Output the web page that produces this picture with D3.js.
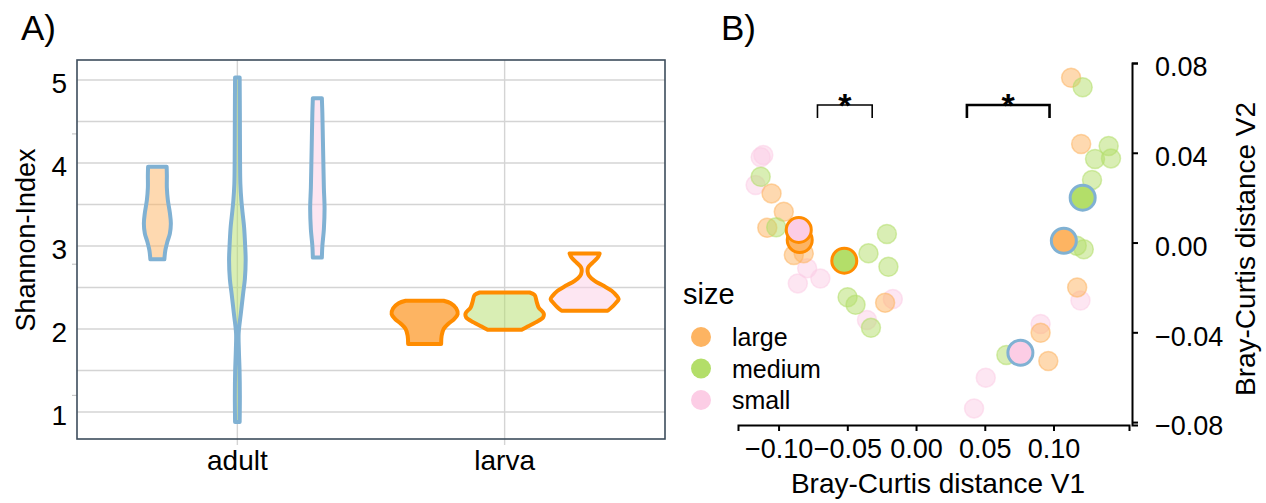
<!DOCTYPE html>
<html>
<head>
<meta charset="utf-8">
<script src="https://cdn.jsdelivr.net/npm/d3@7"></script>
<style>
  body { margin: 0; background: #fff; }
  text { font-family: "Liberation Sans", Arial, sans-serif; fill: #000; }
</style>
</head>
<body>
<svg id="canvas"></svg>
<script>
const width = 1266;
const height = 503;

// panel A data
const stages = ['adult', 'larva'];
const sizes = ['large', 'medium', 'small'];
const shannonTicks = [1, 2, 3, 4, 5];
const shannonGrid = [1, 1.5, 2, 2.5, 3, 3.5, 4, 4.5, 5];
const shannonMinorTicks = [4.35, 2.78, 1.2];

// violin outlines: [Shannon value, density]
const adultLarge = [[3.955, .93], [3.85, .95], [3.7, .95], [3.55, 1.05], [3.4, 1.25], [3.27, 1.35], [3.15, 1.25], [3.05, 1.0], [2.95, .8], [2.84, .7]];
const adultMedium = [[5.03, .23], [4.6, .25], [4.0, .27], [3.75, .3], [3.55, .4], [3.4, .52], [3.23, .67], [3.0, .78], [2.83, .83], [2.6, .75], [2.43, .58], [2.19, .35], [1.95, .13], [1.75, .15], [1.5, .22], [1.2, .25], [0.88, .23]];
const adultSmall = [[4.78, .45], [4.6, .5], [4.3, .55], [4.0, .6], [3.7, .65], [3.45, .72], [3.2, .65], [3.0, .5], [2.86, .45]];
const larvaLarge = [[2.34, 1.9], [2.31, 2.6], [2.25, 3.15], [2.18, 3.3], [2.12, 2.95], [2.06, 2.35], [2.0, 1.9], [1.92, 1.7], [1.82, 1.65]];
const larvaMedium = [[2.44, 2.5], [2.41, 3.0], [2.33, 3.2], [2.26, 3.4], [2.19, 3.9], [2.14, 3.85], [2.08, 3.1], [2.03, 2.3], [1.99, 1.7]];
const larvaSmall = [[2.91, 1.5], [2.86, 1.3], [2.80, .8], [2.74, .35], [2.69, .3], [2.64, .45], [2.58, 1.0], [2.52, 1.9], [2.46, 2.7], [2.40, 3.2], [2.36, 3.4], [2.31, 3.1], [2.26, 2.7], [2.22, 2.3]];

// panel B data: [V1, V2]
const pointsLarge = [[-0.1051, 0.0219], [-0.0962, 0.0137], [-0.1082, 0.0066], [-0.0889, -0.0056], [-0.0817, -0.0048], [-0.0225, -0.0268],
  [0.1128, 0.0734], [0.1201, 0.0439], [0.1172, -0.0200], [0.0906, -0.0402], [0.0962, -0.0528]];
const pointsMedium = [[-0.1130, 0.0293], [-0.1017, 0.0068], [-0.0346, -0.0048], [-0.0212, 0.0038], [-0.0201, -0.0108], [-0.0498, -0.0244], [-0.0440, -0.0277], [-0.0328, -0.0380],
  [0.1212, 0.0692], [0.1401, 0.0430], [0.1302, 0.0372], [0.1418, 0.0375], [0.1280, 0.0279], [0.1169, -0.0014], [0.1220, -0.0030], [0.0657, -0.0501]];
const pointsSmall = [[-0.1111, 0.0390], [-0.1130, 0.0380], [-0.1167, 0.0256], [-0.0792, -0.0115], [-0.0696, -0.0160], [-0.0860, -0.0182], [-0.0169, -0.0252], [-0.0357, -0.0345],
  [0.1196, -0.0258], [0.0906, -0.0363], [0.0507, -0.0602], [0.0422, -0.0739]];
const centroidStage = ['larva', 'larva', 'larva', 'adult', 'adult', 'adult'];
const centroidSize = ['large', 'medium', 'small', 'large', 'medium', 'small'];
const centroidV1 = [-0.0846, -0.0522, -0.0853, 0.1075, 0.1212, 0.0759];
const centroidV2 = [0.0011, -0.0081, 0.0056, 0.0008, 0.0200, -0.0491];
const brackets = [[-0.0717, -0.0319, 0.0613, 0.0555], [0.0370, 0.0971, 0.0613, 0.0555]];
const v1Ticks = [-0.10, -0.05, 0.00, 0.05, 0.10];
const v2Ticks = [-0.08, -0.04, 0.00, 0.04, 0.08];

const sizeColor = d3.scaleOrdinal().domain(sizes).range(['#fdb462', '#b3de69', '#fccde5']);
const stageColor = d3.scaleOrdinal().domain(stages).range(['#80b1d3', '#ff8c00']);

const svg = d3.select('#canvas').attr('width', width).attr('height', height);

// ---------- panel A ----------
const xA = d3.scalePoint().domain(stages).range([77, 665]).padding(0.6);
const dodge = d3.scalePoint().domain(sizes).range([-80, 80]);
const yA = d3.scaleLinear().domain([0.675, 5.24]).range([439, 60]);
const wA = d3.scaleLinear().domain([0, 1]).range([0, 10]);

const gA = svg.append('g');

gA.selectAll('.hgrid')
  .data(shannonGrid)
  .enter()
  .append('line')
  .attr('x1', 77).attr('x2', 665)
  .attr('y1', d => yA(d)).attr('y2', d => yA(d))
  .attr('stroke', '#d4d4d4').attr('stroke-width', 1.4);

gA.selectAll('.vgrid')
  .data(stages)
  .enter()
  .append('line')
  .attr('x1', d => xA(d)).attr('x2', d => xA(d))
  .attr('y1', 60).attr('y2', 445)
  .attr('stroke', '#d4d4d4').attr('stroke-width', 1.4);

gA.selectAll('.minor')
  .data(shannonMinorTicks)
  .enter()
  .append('line')
  .attr('x1', 72).attr('x2', 77)
  .attr('y1', d => yA(d)).attr('y2', d => yA(d))
  .attr('stroke', '#c8c8c8').attr('stroke-width', 1.2);

const violins = [
  { stage: 'adult', size: 'large', values: adultLarge, alpha: 0.5 },
  { stage: 'adult', size: 'medium', values: adultMedium, alpha: 0.5 },
  { stage: 'adult', size: 'small', values: adultSmall, alpha: 0.5 },
  { stage: 'larva', size: 'large', values: larvaLarge, alpha: 1 },
  { stage: 'larva', size: 'medium', values: larvaMedium, alpha: 0.5 },
  { stage: 'larva', size: 'small', values: larvaSmall, alpha: 0.5 }
];

violins.forEach(v => {
  const cx = xA(v.stage) + dodge(v.size);
  const area = d3.area()
    .y(d => yA(d[0]))
    .x0(d => cx - wA(d[1]))
    .x1(d => cx + wA(d[1]))
    .curve(d3.curveCatmullRom.alpha(0.5));
  gA.append('path')
    .attr('d', area(v.values))
    .attr('fill', sizeColor(v.size))
    .attr('fill-opacity', v.alpha)
    .attr('stroke', stageColor(v.stage))
    .attr('stroke-width', 4)
    .attr('stroke-linejoin', 'round');
});

gA.append('rect')
  .attr('x', 77).attr('y', 60)
  .attr('width', 588).attr('height', 379)
  .attr('fill', 'none')
  .attr('stroke', '#3d4d5c').attr('stroke-width', 1.6);

gA.selectAll('.ytick')
  .data(shannonTicks)
  .enter()
  .append('text')
  .attr('x', 67)
  .attr('y', d => yA(d) + 13)
  .attr('text-anchor', 'end')
  .style('font-size', '28px')
  .text(d => d);

gA.selectAll('.xlab')
  .data(stages)
  .enter()
  .append('text')
  .attr('x', d => xA(d))
  .attr('y', 470)
  .attr('text-anchor', 'middle')
  .style('font-size', '28px')
  .text(d => d);

gA.append('text')
  .attr('transform', 'translate(35,240) rotate(-90)')
  .attr('text-anchor', 'middle')
  .style('font-size', '27px')
  .text('Shannon-Index');

svg.append('text').attr('x', 21).attr('y', 40).style('font-size', '35px').text('A)');

// ---------- panel B ----------
const xB = d3.scaleLinear().domain([-0.1295, 0.1549]).range([738, 1129]);
const yB = d3.scaleLinear().domain([-0.0813, 0.08]).range([425, 63]);

const gB = svg.append('g');

const lightLayers = [
  { size: 'small', values: pointsSmall },
  { size: 'large', values: pointsLarge },
  { size: 'medium', values: pointsMedium }
];

lightLayers.forEach(layer => {
  gB.append('g')
    .selectAll('circle')
    .data(layer.values)
    .enter()
    .append('circle')
    .attr('cx', d => xB(d[0]))
    .attr('cy', d => yB(d[1]))
    .attr('r', 9.5)
    .attr('fill', sizeColor(layer.size))
    .attr('fill-opacity', 0.5)
    .attr('stroke', sizeColor(layer.size))
    .attr('stroke-opacity', 0.55)
    .attr('stroke-width', 1.5);
});

gB.selectAll('.centroid')
  .data(d3.range(centroidV1.length))
  .enter()
  .append('circle')
  .attr('cx', i => xB(centroidV1[i]))
  .attr('cy', i => yB(centroidV2[i]))
  .attr('r', 12.5)
  .attr('fill', i => sizeColor(centroidSize[i]))
  .attr('stroke', i => stageColor(centroidStage[i]))
  .attr('stroke-width', 3);

brackets.forEach((b, i) => {
  const x0 = xB(b[0]), x1 = xB(b[1]), yt = yB(b[2]), yb = yB(b[3]);
  gB.append('path')
    .attr('d', d3.line()([[x0, yb], [x0, yt], [x1, yt], [x1, yb]]))
    .attr('fill', 'none')
    .attr('stroke', '#000')
    .attr('stroke-width', i === 0 ? 1.6 : 2.6);
  gB.append('text')
    .attr('x', (x0 + x1) / 2)
    .attr('y', yt + 12)
    .attr('text-anchor', 'middle')
    .style('font-size', '34px')
    .style('font-weight', 'bold')
    .text('*');
});

const xAxisB = d3.axisBottom(xB).tickValues(v1Ticks).tickFormat(d3.format('.2f')).tickSizeOuter(0).tickSize(6).tickPadding(8);
const yAxisB = d3.axisRight(yB).tickValues(v2Ticks).tickFormat(d3.format('.2f')).tickSizeOuter(0).tickSize(6).tickPadding(17);

const xg = gB.append('g').attr('transform', 'translate(0,425)').call(xAxisB);
const yg = gB.append('g').attr('transform', 'translate(1132,0)').call(yAxisB);

[xg, yg].forEach(g => {
  g.select('.domain').attr('stroke', '#000').attr('stroke-width', 2);
  g.selectAll('.tick line').attr('stroke', '#000').attr('stroke-width', 2);
  g.selectAll('.tick text')
    .style('font-size', '27px')
    .style('font-family', '"Liberation Sans", Arial, sans-serif')
    .attr('fill', '#000');
});
yg.selectAll('.tick text').attr('dy', '0.47em');

gB.append('text')
  .attr('x', 938).attr('y', 493)
  .attr('text-anchor', 'middle')
  .style('font-size', '28px')
  .text('Bray-Curtis distance V1');

gB.append('text')
  .attr('transform', 'translate(1255,249) rotate(-90)')
  .attr('text-anchor', 'middle')
  .style('font-size', '28px')
  .text('Bray-Curtis distance V2');

// legend
const legend = gB.append('g');
legend.append('text').attr('x', 683).attr('y', 304).style('font-size', '29px').text('size');
legend.selectAll('circle')
  .data(sizes)
  .enter()
  .append('circle')
  .attr('cx', 701)
  .attr('cy', (d, i) => 337 + i * 31.5)
  .attr('r', 10)
  .attr('fill', d => sizeColor(d));
legend.selectAll('.lab')
  .data(sizes)
  .enter()
  .append('text')
  .attr('x', 732)
  .attr('y', (d, i) => 346 + i * 31.5)
  .style('font-size', '25px')
  .text(d => d);

svg.append('text').attr('x', 721).attr('y', 40).style('font-size', '35px').text('B)');
</script>
</body>
</html>
